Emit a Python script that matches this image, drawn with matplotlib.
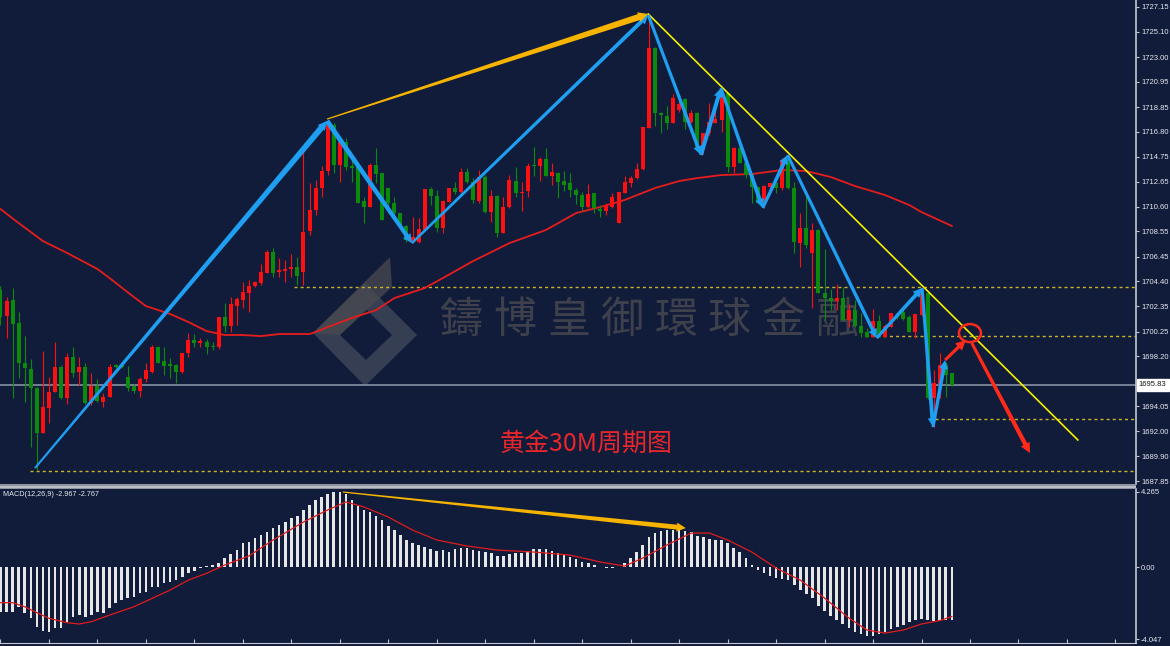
import matplotlib
matplotlib.use('Agg')
import matplotlib.pyplot as plt
import numpy as np
from matplotlib.patches import Polygon, Ellipse, Rectangle
from matplotlib.transforms import IdentityTransform, blended_transform_factory

# ---------------- data ----------------
opens = [1703.69, 1701.53, 1702.86, 1700.95, 1697.64, 1697.14, 1695.56, 1691.83, 1693.91, 1695.23,
         1697.30, 1694.74, 1698.13, 1696.89, 1697.30, 1694.32, 1695.73, 1694.40, 1694.82, 1697.47,
         1697.47, 1696.48, 1695.73, 1695.32, 1696.31, 1696.89, 1698.96, 1697.80, 1697.55, 1697.47,
         1696.89, 1698.47, 1699.54, 1699.29, 1699.38, 1699.04, 1698.96, 1701.45, 1700.70, 1702.36,
         1702.86, 1703.44, 1704.02, 1704.27, 1705.10, 1706.84, 1705.18, 1705.26, 1705.43, 1705.59,
         1705.18, 1708.58, 1710.32, 1712.14, 1713.55, 1717.37, 1714.05, 1715.96, 1713.97, 1713.89,
         1711.06, 1710.57, 1714.05, 1713.39, 1712.14, 1710.90, 1710.07, 1709.00, 1707.67, 1707.67,
         1708.66, 1712.06, 1711.48, 1708.83, 1710.98, 1712.14, 1711.81, 1713.47, 1712.64, 1711.06,
         1713.06, 1710.15, 1711.48, 1708.41, 1710.57, 1712.72, 1711.73, 1711.89, 1714.05, 1713.97,
         1714.55, 1713.14, 1713.39, 1712.72, 1712.56, 1711.98, 1711.56, 1710.57, 1711.73, 1710.40,
         1710.24, 1710.57, 1709.24, 1711.73, 1712.56, 1712.97, 1713.72, 1717.12, 1723.75, 1718.36,
         1718.11, 1717.53, 1718.61, 1719.52, 1717.62, 1718.36, 1715.30, 1716.70, 1717.53, 1717.78,
         1720.02, 1713.89, 1715.46, 1714.22, 1713.22, 1712.23, 1710.90, 1712.23, 1712.56, 1712.14,
         1714.47, 1712.14, 1707.58, 1708.83, 1706.76, 1708.66, 1703.44, 1703.02, 1702.78, 1703.02,
         1701.20, 1702.03, 1700.70, 1700.21, 1699.79, 1701.12, 1699.79, 1700.62, 1701.50, 1701.87,
         1701.45, 1700.21, 1701.62, 1703.44, 1694.74, 1695.81, 1697.47, 1696.81]
highs = [1704.00, 1703.11, 1703.85, 1701.87, 1699.87, 1697.97, 1695.65, 1698.63, 1696.48, 1699.38,
         1697.47, 1698.47, 1698.96, 1698.13, 1697.64, 1696.81, 1696.31, 1695.15, 1697.55, 1697.55,
         1697.55, 1697.39, 1695.89, 1696.48, 1697.64, 1699.13, 1699.04, 1698.96, 1698.05, 1697.55,
         1698.47, 1700.12, 1700.04, 1699.71, 1699.63, 1699.38, 1701.45, 1702.61, 1703.11, 1703.11,
         1704.35, 1704.52, 1704.43, 1705.84, 1707.01, 1707.17, 1706.34, 1706.17, 1706.67, 1706.42,
         1715.13, 1712.56, 1712.80, 1713.97, 1717.73, 1717.53, 1716.29, 1716.29, 1714.47, 1714.05,
         1711.40, 1714.22, 1715.46, 1713.39, 1712.23, 1711.40, 1710.07, 1709.08, 1709.74, 1709.66,
         1712.06, 1712.23, 1711.98, 1711.15, 1712.14, 1712.64, 1713.80, 1713.80, 1712.97, 1713.64,
         1713.22, 1711.98, 1711.56, 1711.40, 1713.22, 1713.89, 1712.64, 1714.22, 1715.54, 1714.72,
         1715.46, 1714.22, 1713.47, 1713.55, 1713.39, 1712.14, 1711.81, 1712.48, 1711.73, 1710.73,
         1710.90, 1711.73, 1711.81, 1713.14, 1713.14, 1714.22, 1717.20, 1726.49, 1723.83, 1718.45,
         1718.94, 1719.94, 1719.44, 1719.61, 1718.61, 1718.45, 1716.70, 1719.19, 1719.44, 1720.10,
         1720.02, 1715.54, 1715.71, 1714.30, 1713.39, 1712.23, 1712.39, 1712.56, 1712.64, 1714.63,
         1714.88, 1712.64, 1710.07, 1711.56, 1709.24, 1708.75, 1707.09, 1703.77, 1704.19, 1703.94,
         1702.53, 1702.86, 1701.78, 1700.54, 1702.11, 1701.62, 1700.87, 1701.78, 1701.70, 1702.03,
         1701.62, 1701.70, 1703.85, 1703.44, 1697.06, 1698.47, 1697.72, 1696.81]
lows = [1700.80, 1699.71, 1694.74, 1696.39, 1694.40, 1690.67, 1688.80, 1691.83, 1692.66, 1695.23,
        1694.65, 1694.24, 1696.48, 1695.81, 1694.24, 1694.16, 1694.40, 1693.99, 1694.82, 1697.22,
        1697.22, 1695.32, 1695.15, 1694.82, 1696.06, 1696.81, 1697.64, 1696.64, 1696.39, 1695.98,
        1696.81, 1698.13, 1698.96, 1698.96, 1698.38, 1698.71, 1698.80, 1700.21, 1700.21, 1700.79,
        1702.20, 1701.87, 1703.94, 1704.10, 1705.10, 1704.77, 1704.77, 1704.35, 1704.77, 1704.10,
        1704.10, 1708.25, 1709.90, 1711.40, 1713.22, 1713.39, 1712.64, 1713.64, 1712.64, 1710.90,
        1709.24, 1710.57, 1712.56, 1709.49, 1710.07, 1709.91, 1709.08, 1707.67, 1707.58, 1707.58,
        1708.66, 1710.73, 1708.50, 1708.41, 1710.98, 1711.65, 1711.73, 1712.56, 1710.90, 1710.90,
        1710.07, 1709.33, 1708.08, 1708.41, 1710.49, 1711.40, 1710.24, 1711.40, 1713.14, 1712.72,
        1713.14, 1712.39, 1711.31, 1711.89, 1711.40, 1710.82, 1710.24, 1710.49, 1710.07, 1709.74,
        1709.91, 1710.49, 1709.24, 1711.73, 1712.23, 1712.89, 1713.64, 1717.12, 1717.28, 1716.70,
        1717.04, 1717.53, 1718.45, 1717.04, 1717.53, 1715.30, 1714.96, 1716.54, 1717.53, 1716.79,
        1713.47, 1713.39, 1714.22, 1712.97, 1710.90, 1710.90, 1710.49, 1711.73, 1711.73, 1711.98,
        1712.06, 1706.76, 1705.59, 1707.17, 1702.20, 1703.44, 1701.20, 1702.03, 1702.03, 1701.12,
        1700.62, 1700.62, 1699.79, 1699.79, 1699.79, 1699.79, 1699.79, 1700.62, 1701.30, 1701.20,
        1700.21, 1699.71, 1701.53, 1694.65, 1692.33, 1694.74, 1694.82, 1695.73]
closes = [1701.45, 1702.78, 1700.87, 1697.64, 1697.22, 1695.56, 1691.83, 1693.99, 1695.23, 1697.30,
          1694.74, 1698.13, 1696.81, 1697.30, 1694.32, 1695.73, 1694.49, 1694.82, 1697.30, 1697.30,
          1697.30, 1695.56, 1695.32, 1696.31, 1697.06, 1698.96, 1697.64, 1697.39, 1697.39, 1696.89,
          1698.47, 1699.54, 1699.29, 1699.46, 1698.96, 1698.96, 1701.45, 1700.70, 1702.53, 1702.94,
          1703.52, 1704.02, 1704.35, 1705.18, 1706.84, 1705.10, 1705.35, 1705.43, 1705.59, 1704.85,
          1708.50, 1710.32, 1712.14, 1713.55, 1717.37, 1714.05, 1715.96, 1713.89, 1713.80, 1710.90,
          1710.57, 1714.05, 1713.30, 1709.49, 1710.90, 1710.07, 1709.08, 1707.83, 1708.08, 1708.75,
          1712.06, 1711.48, 1708.83, 1711.06, 1712.14, 1711.81, 1713.47, 1712.64, 1711.15, 1713.06,
          1710.15, 1711.48, 1708.41, 1710.57, 1712.81, 1711.73, 1711.81, 1713.97, 1713.97, 1714.55,
          1713.14, 1713.47, 1712.64, 1712.39, 1711.98, 1711.56, 1710.57, 1711.65, 1710.49, 1710.24,
          1710.65, 1711.40, 1711.81, 1712.64, 1712.97, 1713.72, 1717.20, 1723.75, 1718.36, 1718.20,
          1717.53, 1719.61, 1719.11, 1717.62, 1718.36, 1715.54, 1716.70, 1717.62, 1717.86, 1720.02,
          1713.89, 1715.46, 1714.22, 1713.22, 1712.23, 1710.90, 1712.31, 1712.56, 1712.14, 1714.47,
          1712.14, 1707.67, 1708.83, 1707.42, 1708.66, 1703.44, 1703.02, 1702.78, 1703.02, 1701.20,
          1702.03, 1700.70, 1700.12, 1699.79, 1701.12, 1699.79, 1700.70, 1701.78, 1701.45, 1701.28,
          1700.21, 1701.70, 1703.44, 1694.74, 1695.98, 1697.47, 1696.64, 1695.83]

ma_idx = [0, 3, 7, 11, 16, 18, 22, 24, 28, 31, 34, 37, 40, 43, 46, 51, 52, 54, 58, 62, 65, 70, 73,
          78, 84, 90, 95, 99, 103, 108, 112, 115, 119, 124, 129, 133, 137, 141, 146, 150, 152, 157]
ma_val = [1710.40, 1709.24, 1707.75, 1706.76, 1705.43, 1704.68, 1703.11, 1702.36, 1701.70, 1701.04,
          1700.29, 1699.96, 1699.96, 1699.87, 1700.04, 1700.04, 1700.21, 1700.62, 1701.37, 1702.03,
          1703.02, 1703.85, 1704.68, 1706.09, 1707.58, 1708.66, 1710.07, 1710.57, 1711.15, 1712.14,
          1712.72, 1712.97, 1713.22, 1713.30, 1713.64, 1713.55, 1713.06, 1712.31, 1711.56, 1710.73,
          1710.15, 1709.00]

macd_hist = [-2.50, -2.50, -2.50, -2.22, -2.57, -2.85, -3.34, -3.57, -3.63, -3.43,
             -3.40, -3.06, -2.78, -2.69, -2.78, -2.69, -2.53, -2.59, -2.31, -2.03,
             -1.84, -1.75, -1.66, -1.46, -1.37, -1.09, -1.13, -0.90, -0.81, -0.72,
             -0.53, -0.34, -0.19, -0.06, 0.05, 0.15, 0.26, 0.50, 0.74, 1.00,
             1.35, 1.44, 1.65, 1.82, 1.99, 2.21, 2.38, 2.55, 2.78, 2.89,
             3.23, 3.51, 3.79, 3.96, 4.13, 4.24, 4.24, 4.13, 3.79, 3.45,
             3.23, 3.11, 2.89, 2.66, 2.33, 2.10, 1.82, 1.54, 1.37, 1.26,
             1.14, 1.03, 0.92, 0.97, 0.86, 1.03, 1.09, 1.09, 0.97, 0.92,
             0.86, 0.81, 0.64, 0.64, 0.75, 0.81, 0.81, 0.92, 1.03, 1.03,
             1.03, 0.92, 0.81, 0.69, 0.58, 0.47, 0.30, 0.24, 0.13, 0.02,
             -0.04, -0.04, 0.02, 0.24, 0.52, 0.86, 1.26, 1.71, 1.93, 2.04,
             2.10, 2.10, 2.10, 2.04, 1.99, 1.76, 1.71, 1.59, 1.54, 1.54,
             1.37, 1.09, 0.86, 0.52, 0.13, -0.15, -0.32, -0.49, -0.60, -0.66,
             -0.72, -1.00, -1.28, -1.50, -1.73, -2.18, -2.46, -2.74, -2.97, -3.19,
             -3.42, -3.64, -3.76, -3.87, -3.87, -3.76, -3.64, -3.47, -3.36, -3.25,
             -3.05, -2.98, -2.93, -2.95, -3.00, -3.02, -2.99, -2.967]
sig_idx = [0, 2, 4, 6, 8, 11, 13, 15, 18, 22, 25, 28, 31, 34, 37, 41, 45, 50, 54, 57, 60, 64, 68,
           72, 77, 82, 88, 94, 99, 103, 106, 110, 114, 117, 120, 124, 128, 132, 136, 140, 143, 146,
           149, 152, 155, 157]
sig_val = [-1.99, -1.99, -2.22, -2.55, -2.87, -3.12, -3.19, -3.06, -2.69, -2.22, -1.75, -1.28,
           -0.72, -0.34, 0.13, 0.64, 1.54, 2.55, 3.23, 3.68, 3.40, 2.83, 2.10, 1.54, 1.20, 0.97,
           0.86, 0.69, 0.30, 0.07, 0.52, 1.26, 1.93, 1.93, 1.54, 0.86, -0.04, -0.72, -1.73, -2.85,
           -3.53, -3.70, -3.53, -3.19, -3.00, -2.767]

price_ticks = [1727.15, 1725.10, 1723.00, 1720.95, 1718.85, 1716.80, 1714.75, 1712.65, 1710.60,
               1708.55, 1706.45, 1704.40, 1702.35, 1700.25, 1698.20, 1696.10, 1694.05, 1692.00,
               1689.90, 1687.85]
macd_ticks = [4.265, 0.0, -4.047]
macd_tick_labels = ['4.265', '0.00', '-4.047']
last_price = 1695.83

# support / resistance dotted levels: (start index, price)
levels = [(48.5, 1703.94), (142.7, 1699.87), (154.2, 1693.0), (4.9, 1688.68)]

# wave arrows (start idx, start price, end idx, end price, tail width px, head width px)
blue_waves = [(5.69, 1688.93, 53.9, 1717.70, 2.0, 6.0),
              (53.9, 1717.70, 67.9, 1707.58, 5.0, 4.0),
              (67.9, 1707.58, 106.9, 1726.49, 2.5, 4.0),
              (106.9, 1726.49, 115.6, 1714.88, 3.0, 3.5),
              (115.6, 1714.88, 118.9, 1720.43, 4.0, 4.0),
              (118.9, 1720.43, 125.8, 1710.49, 3.0, 4.0),
              (125.8, 1710.49, 129.9, 1714.88, 3.0, 4.0),
              (129.9, 1714.88, 144.6, 1699.71, 3.0, 3.5),
              (144.6, 1699.71, 152.1, 1703.85, 3.0, 4.0),
              (152.1, 1703.85, 153.9, 1692.33, 3.0, 4.0),
              (153.9, 1692.33, 155.9, 1697.89, 3.0, 4.0)]
red_waves = [(155.9, 1697.89, 159.3, 1699.54, 3.0, 3.5),
             (160.3, 1699.29, 169.9, 1690.18, 3.0, 4.5)]
gold_arrow = (53.9, 1717.86, 106.9, 1726.57, 1.2, 6.5)
trend_line = (106.9, 1726.57, 177.8, 1691.26)
circle_pt = (160.0, 1700.12)
macd_arrow = (56.5, 4.24, 113.1, 2.21, 1.2, 5.0)

# ---------------- style ----------------
BG = '#111c3a'
UP = '#ff1010'
DN = '#0c8a0c'
BLUE = '#1e9ff2'
W, H = 1170, 646

fig = plt.figure(figsize=(W / 100, H / 100), dpi=100, facecolor=BG)


def rect(x0, y0, x1, y1):
    return [x0 / W, 1 - y1 / H, (x1 - x0) / W, (y1 - y0) / H]


ax = fig.add_axes(rect(0, 0, 1136, 484), facecolor=BG)
axm = fig.add_axes(rect(0, 489, 1136, 643), facecolor=BG)

XMAX = 187.4
ax.set_xlim(-0.08, XMAX)
ax.set_ylim(1687.61, 1727.73)
axm.set_xlim(-0.08, XMAX)
axm.set_ylim(-4.26, 4.41)

for a in (ax, axm):
    for s in ('left', 'top', 'bottom'):
        a.spines[s].set_visible(False)
    a.spines['right'].set_color('#c3c7cf')
    a.spines['right'].set_linewidth(1.2)
    a.yaxis.tick_right()
    a.tick_params(axis='y', direction='out', length=2.2, width=0.8, color='#c3c7cf',
                  labelcolor='#e4e8ef', labelsize=5.5, pad=1.5)

ax.set_xticks([])
ax.set_yticks(price_ticks)
ax.set_yticklabels(['%.2f' % t for t in price_ticks], family='Liberation Sans')
axm.set_yticks(macd_ticks)
axm.set_yticklabels(macd_tick_labels, family='Liberation Sans')
axm.spines['bottom'].set_visible(True)
axm.spines['bottom'].set_color('#c3c7cf')
axm.set_xticks(np.arange(0, XMAX, 8))
axm.tick_params(axis='x', direction='in', length=3, color='#c3c7cf', labelbottom=False)

# ---------------- watermark ----------------
def px(x, y):
    return (x / 1136, 1 - y / 484)

band = Polygon([px(313, 333), px(390, 257), px(392, 287), px(340, 335)], closed=True,
               transform=ax.transAxes, facecolor='#4a4a50', edgecolor='none', alpha=0.75, zorder=0.5)
outer = Polygon([px(313, 333), px(365, 386), px(417, 335), px(365, 283)], closed=True,
                transform=ax.transAxes, facecolor='#3a4256', edgecolor='none', alpha=0.9, zorder=0.4)
inner = Polygon([px(340, 335), px(366, 360), px(392, 335), px(366, 309)], closed=True,
                transform=ax.transAxes, facecolor=BG, edgecolor='none', zorder=0.45)
for p in (outer, inner, band):
    ax.add_patch(p)
wm_chars = '鑄博皇御環球金融'
for k, ch in enumerate(wm_chars):
    ax.text(*px(461 + 53.7 * k, 321), ch, transform=ax.transAxes, ha='center', va='center',
            fontsize=31, color='#3e404b', family=['Noto Sans CJK TC'], zorder=0.6)

# ---------------- candles ----------------
idx = np.arange(len(opens))
o = np.array(opens); c = np.array(closes); h = np.array(highs); l = np.array(lows)
cols = [UP if cc >= oo else DN for oo, cc in zip(o, c)]
ax.vlines(idx, l, h, colors=cols, linewidth=0.8, zorder=3)
body = np.maximum(np.abs(c - o), 0.09)
ax.bar(idx, body, bottom=np.minimum(o, c), width=0.66, color=cols, linewidth=0, zorder=3.1)

ax.plot(ma_idx, ma_val, color='#e61c1c', lw=1.3, zorder=2.8)

# levels
for x0, lv in levels:
    ax.hlines(lv, x0, XMAX, colors='#c9b52a', linestyles=(0, (2.2, 2.2)), linewidth=1.0, zorder=2)
ax.axhline(last_price, color='#7e889c', lw=1.3, zorder=2.2)
ax.text(1.0025, last_price, '%.2f' % last_price, transform=blended_transform_factory(ax.transAxes, ax.transData),
        ha='left', va='center', fontsize=5.5, color='#111111', family='Liberation Sans', zorder=10,
        bbox=dict(boxstyle='square,pad=0.3', facecolor='white', edgecolor='white'), clip_on=False)

# ---------------- arrows ----------------
def taper(axis, x0, y0, x1, y1, w0, w1, color, head=True, hl=10, hw=None, z=6):
    a = axis.transData.transform((x0, y0))
    b = axis.transData.transform((x1, y1))
    d = b - a
    L = np.hypot(*d)
    u = d / L
    n = np.array([-u[1], u[0]])
    if hw is None:
        hw = max(2.4 * w1, 8)
    if head:
        base = b - u * hl
        wb = w0 + (w1 - w0) * (L - hl) / L
        pts = [a + n * w0 / 2, base + n * wb / 2, base + n * hw / 2, b,
               base - n * hw / 2, base - n * wb / 2, a - n * w0 / 2]
    else:
        pts = [a + n * w0 / 2, b + n * w1 / 2, b - n * w1 / 2, a - n * w0 / 2]
    axis.add_patch(Polygon(pts, closed=True, transform=IdentityTransform(), facecolor=color,
                           edgecolor='none', zorder=z, clip_on=False))

for x0, y0, x1, y1, w0, w1 in blue_waves:
    taper(ax, x0, y0, x1, y1, w0, w1, BLUE, hl=9, hw=9)
for x0, y0, x1, y1, w0, w1 in red_waves:
    taper(ax, x0, y0, x1, y1, w0, w1, '#ff2a1a', hl=10, hw=10)
gx0, gy0, gx1, gy1, gw0, gw1 = gold_arrow
taper(ax, gx0, gy0, gx1, gy1, gw0, gw1, '#f6b400', hl=10, hw=10)
ax.plot([trend_line[0], trend_line[2]], [trend_line[1], trend_line[3]], color='#f4f000', lw=1.2, zorder=5)
cc = ax.transData.transform(circle_pt)
ax.add_patch(Ellipse(cc, 22, 18, transform=IdentityTransform(), facecolor='none',
                     edgecolor='#ff2a1a', lw=1.8, zorder=7))

ax.text(*px(586, 444), '黄金30M周期图', transform=ax.transAxes, ha='center', va='center',
        fontsize=18, color='#e8262b', family=['Noto Sans CJK SC'], zorder=8)

# ---------------- MACD ----------------
axm.bar(np.arange(len(macd_hist)), macd_hist, width=0.42, color='#e6e6e6', linewidth=0, zorder=3)
axm.plot(sig_idx, sig_val, color='#e01b1b', lw=0.9, zorder=4)
mx0, my0, mx1, my1, mw0, mw1 = macd_arrow
taper(axm, mx0, my0, mx1, my1, mw0, mw1, '#f6b400', hl=9, hw=9)
axm.text(0.0025, 0.985, 'MACD(12,26,9) -2.967 -2.767', transform=axm.transAxes, ha='left', va='top',
         fontsize=5.2, color='#e8ecf2', family='Liberation Sans')

# separator
fig.add_artist(Rectangle((0, 1 - 489 / H), 1136 / W, 5 / H, transform=fig.transFigure,
                         facecolor='#8d929e', edgecolor='none'))
fig.add_artist(Rectangle((0, 1 - 487.5 / H), 1136 / W, 2 / H, transform=fig.transFigure,
                         facecolor='#b9bdc6', edgecolor='none'))

fig.savefig('out.png', dpi=100, facecolor=BG)
